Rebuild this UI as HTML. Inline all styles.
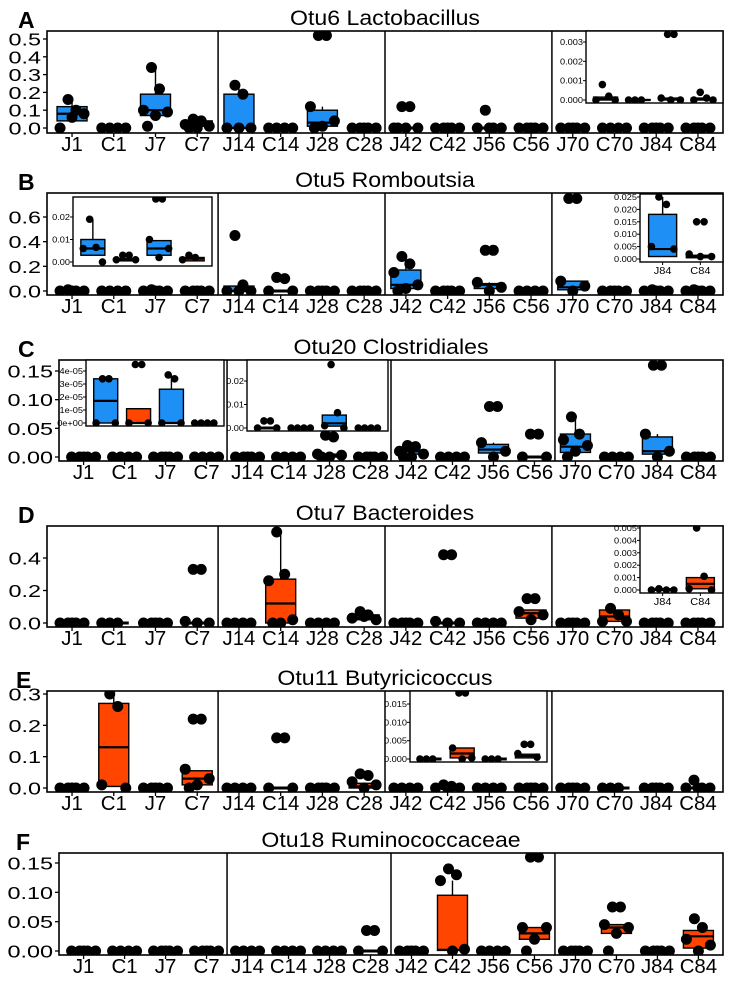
<!DOCTYPE html>
<html><head><meta charset="utf-8"><style>
html,body{margin:0;padding:0;background:#fff;}
svg{display:block;font-family:"Liberation Sans",Arial,sans-serif;}
</style></head><body>
<svg id="fig" width="732" height="989" viewBox="0 0 732 989" xmlns="http://www.w3.org/2000/svg"></svg>
<script>
const CATS=["J1","C1","J7","C7","J14","C14","J28","C28","J42","C42","J56","C56","J70","C70","J84","C84"];
// Panel A
const A_q1=[.04,0,.07,.01,0,0,.01,0,0,0,0,0,0,0,0,0];
const A_med=[.08,0,.1,.02,0,0,.03,0,0,0,0,0,0,0,0,0];
const A_q3=[.12,0,.19,.04,.19,0,.1,0,0,0,0,0,0,0,0,0];
const A_hi=[.16,0,.34,.05,.24,0,.12,0,0,0,0,0,0,0,0,0];
const A_pts=[[.16,.1,0,.08,.06],[0,0,0,0],[.34,.22,.1,.09,.07,.01],[.05,.04,.02,.01,0,0],[.24,.19,0,0,0],[0,0,0,0],[.52,.52,.12,.04,.01,0],[0,0,0,0,0],[.12,.12,0,0,0,0],[0,0,0,0,0],[.1,0,0,0,0],[0,0,0,0,0],[0,0,0,0,0],[0,0,0,0],[0,0,0,0,0],[0,0,0,0,0]];
const A_ticks=[0,.1,.2,.3,.4,.5];
const A_tickLabels=["0.0","0.1","0.2","0.3","0.4","0.5"];
const AI_cats=["J70","C70","J84","C84"];
const AI_q1=[0,0,0,0];const AI_med=[.00005,0,.00003,.00003];const AI_q3=[.00015,.00002,.0001,.0001];const AI_hi=[.00015,.00002,.0001,.0001];
const AI_pts=[[.0008,.0002,0,0],[0,0,0],[.0034,.0034,.0001,0,0],[.0004,.0001,0,0]];
const AI_ticks=[0,.001,.002,.003];const AI_tickLabels=["0.000","0.001","0.002","0.003"];
// Panel B
const B_q1=[0,0,0,0,0,0,0,0,.02,0,.02,0,.01,0,0,0];
const B_med=[0,0,0,0,0,0,0,0,.05,0,.05,0,.03,0,0,0];
const B_q3=[0,0,0,0,.04,0,0,0,.17,0,.06,0,.08,0,0,0];
const B_hi=[0,0,0,0,.05,0,0,0,.28,0,.07,0,.08,0,0,0];
const B_pts=[[.01,0,0,0,0],[0,0,0,0],[.01,0,0,0,0],[0,0,0,0,0],[.45,.05,0,0,0],[.11,.1,0,0],[0,0,0,0,0],[0,0,0,0,0],[.28,.22,.15,.05,.02,0],[0,0,0,0,0],[.33,.33,.07,.03,0],[0,0,0,0],[.75,.75,.08,.04,0],[0,0,0,0,0],[.01,0,0,0,0],[.01,0,0,0,0]];
const B_ticks=[0,.2,.4,.6];const B_tickLabels=["0.0","0.2","0.4","0.6"];
const BI1_cats=["J1","C1","J7","C7"];
const BI1_q1=[.003,.0005,.003,.0005];const BI1_med=[.006,.001,.006,.0015];const BI1_q3=[.01,.0015,.0095,.002];const BI1_hi=[.019,.0015,.0095,.002];
const BI1_pts=[[.019,.0065,.006,0],[.003,.003,.001,.001],[.028,.028,.01,.006,.002],[.003,.002,.001]];
const BI1_ticks=[0,.01,.02];const BI1_tickLabels=["0.00","0.01","0.02"];
const BI2_cats=["J84","C84"];
const BI2_q1=[.001,.0005];const BI2_med=[.004,.0012];const BI2_q3=[.018,.0015];const BI2_hi=[.025,.0015];
const BI2_pts=[[.025,.022,.005,.004],[.015,.015,.002,.001,.001]];
const BI2_ticks=[0,.005,.01,.015,.02,.025];const BI2_tickLabels=["0.000","0.005","0.010","0.015","0.020","0.025"];
// Panel C
const C_q1=[0,0,0,0,0,0,0,0,.005,0,.007,0,.008,0,.005,0];
const C_med=[0,0,0,0,0,0,.002,0,.01,0,.013,0,.018,0,.01,0];
const C_q3=[0,0,0,0,0,0,.005,0,.012,0,.022,0,.04,0,.035,0];
const C_hi=[0,0,0,0,0,0,.005,0,.02,0,.025,0,.07,0,.04,0];
const C_pts=[[0,0,0,0,0],[0,0,0,0],[0,0,0,0,0],[0,0,0,0],[0,0,0,0,0],[0,0,0,0],[.038,.035,.005,.003,0,0],[0,0,0,0,0],[.02,.018,.01,.005,0,0],[0,0,0,0],[.088,.088,.025,.01,0],[.04,.04,0,0],[.07,.04,.03,.02,.01,0],[0,0,0,0],[.16,.16,.04,.01,0],[0,0,0,0,0]];
const C_ticks=[0,.05,.1,.15];const C_tickLabels=["0.00","0.05","0.10","0.15"];
const CI1_cats=["J1","C1","J7","C7"];
const CI1_q1=[0,0,0,0];const CI1_med=[1.7e-5,0,0,0];const CI1_q3=[3.4e-5,1.1e-5,2.6e-5,0];const CI1_hi=[3.4e-5,1.1e-5,3.7e-5,0];
const CI1_pts=[[3.4e-5,3.4e-5,0,0],[4.5e-5,4.5e-5,0,0],[3.7e-5,3.4e-5,0,0],[0,0,0,0]];
const CI1_ticks=[0,1e-5,2e-5,3e-5,4e-5];const CI1_tickLabels=["0e+00","1e-05","2e-05","3e-05","4e-05"];
const CI2_cats=["J14","C14","J28","C28"];
const CI2_q1=[0,0,.0008,0];const CI2_med=[0,0,.002,0];const CI2_q3=[0,0,.0055,0];const CI2_hi=[0,0,.0055,0];
const CI2_pts=[[.003,.003,0,0],[0,0,0,0],[.027,.0065,.001,0],[0,0,0,0]];
const CI2_ticks=[0,.01,.02];const CI2_tickLabels=["0.00","0.01","0.02"];
// Panel D
const D_q1=[0,0,0,0,0,0,0,.02,0,0,0,.03,0,.01,0,0];
const D_med=[0,0,0,0,0,.12,0,.03,0,0,0,.06,0,.04,0,0];
const D_q3=[0,0,0,0,0,.27,0,.05,0,0,0,.08,0,.08,0,0];
const D_hi=[0,0,0,0,0,.56,0,.05,0,0,0,.08,0,.08,0,0];
const D_pts=[[0,0,0,0,0],[0,0,0],[0,0,0,0,0],[.33,.33,.01,0,0],[0,0,0,0],[.56,.3,.26,.02,0,0],[0,0,0,0],[.07,.05,.03,.02,.04],[0,0,0,0,0],[.42,.42,.01,0,0],[0,0,0,0],[.15,.15,.07,.05,.02],[0,0,0,0,0],[.09,.05,.01,.01],[0,0,0,0,0],[0,0,0,0,0]];
const D_ticks=[0,.2,.4];const D_tickLabels=["0.0","0.2","0.4"];
const DI_cats=["J84","C84"];
const DI_q1=[0,.0001];const DI_med=[0,.0005];const DI_q3=[.0001,.001];const DI_hi=[.0001,.001];
const DI_pts=[[.0001,0,0,0],[.005,.0011,.0001,0]];
const DI_ticks=[0,.001,.002,.003,.004,.005];const DI_tickLabels=["0.000","0.001","0.002","0.003","0.004","0.005"];
// Panel E
const E_q1=[0,.005,0,.01,0,0,0,0,0,0,0,0,0,0,0,0];
const E_med=[0,.13,0,.03,0,0,0,.005,0,0,0,0,0,0,0,0];
const E_q3=[0,.27,0,.055,0,0,0,.015,0,0,0,0,0,0,0,0];
const E_hi=[0,.3,0,.055,0,0,0,.015,0,0,0,0,0,0,0,0];
const E_pts=[[0,0,0,0,0],[.3,.26,.01,0],[0,0,0,0,0],[.22,.22,.06,.03,.01,0],[0,0,0,0],[.16,.16,0,0],[0,0,0,0,0],[.045,.04,.02,.01,0],[0,0,0,0],[.01,.005,0,0,0],[0,0,0,0],[0,0,0,0,0],[0,0,0,0,0],[0,0,0],[0,0,0,0,0],[.025,0,0,0,0]];
const E_ticks=[0,.1,.2,.3];const E_tickLabels=["0.0","0.1","0.2","0.3"];
const EI_cats=["J42","C42","J56","C56"];
const EI_q1=[0,.0003,0,.0003];const EI_med=[0,.0015,0,.0008];const EI_q3=[0,.003,0,.0013];const EI_hi=[0,.003,0,.0013];
const EI_pts=[[0,0,0],[.018,.018,.003,.0003,0],[0,0,0],[.004,.004,.0015,.0005]];
const EI_ticks=[0,.005,.01,.015];const EI_tickLabels=["0.000","0.005","0.010","0.015"];
// Panel F
const F_q1=[0,0,0,0,0,0,0,0,0,.001,0,.02,0,.03,0,.005];
const F_med=[0,0,0,0,0,0,0,0,0,.002,0,.03,0,.04,0,.025];
const F_q3=[0,0,0,0,0,0,0,0,0,.095,0,.04,0,.045,0,.035];
const F_hi=[0,0,0,0,0,0,0,0,0,.12,0,.04,0,.045,0,.04];
const F_pts=[[0,0,0,0,0],[0,0,0,0],[0,0,0,0,0],[0,0,0,0,0],[0,0,0,0],[0,0,0,0],[0,0,0,0],[.035,.035,0,0],[0,0,0,0,0],[.14,.13,.12,.003,0],[0,0,0,0],[.16,.16,.04,.04,.02,0],[0,0,0,0,0],[.075,.075,.045,.04,.03,0],[0,0,0,0,0],[.055,.04,.02,.01,0]];
const F_ticks=[0,.05,.1,.15];const F_tickLabels=["0.00","0.05","0.10","0.15"];

const NS="http://www.w3.org/2000/svg";
const svg=document.getElementById('fig');
const BLUE="#1E8FF5",RED="#FF4500";
const JIT=[-4,4,-12,12,0,-8,8,-14,14];
function mk(tag,attrs,parent){const e=document.createElementNS(NS,tag);for(const k in attrs)e.setAttribute(k,attrs[k]);(parent||svg).appendChild(e);return e;}
function txt(parent,x,y,s,size,anchor,sx,weight){
  const t=mk('text',{transform:`translate(${x},${y}) scale(${sx},1)`,'font-size':size,'text-anchor':anchor,fill:'#000'},parent);
  if(weight)t.setAttribute('font-weight',weight);
  t.textContent=s;return t;}

function drawGroup(g,xs,ys,q1,med,q3,hi,pts,fill,bw,r,fills){
  for(let i=0;i<q1.length;i++){
    const x=xs(i);const f=(fills&&fills[i])||fill;
    const cg=mk('g',{},g);
    
    
    if(hi[i]>q3[i]) mk('line',{x1:x,x2:x,y1:ys(q3[i]),y2:ys(hi[i]),stroke:'#000','stroke-width':1.4},cg);
    if(q3[i]>q1[i]){
      mk('rect',{x:x-bw/2,y:ys(q3[i]),width:bw,height:ys(q1[i])-ys(q3[i]),fill:f,stroke:'#000','stroke-width':1.4},cg);
      mk('line',{x1:x-bw/2,x2:x+bw/2,y1:ys(med[i]),y2:ys(med[i]),stroke:'#000','stroke-width':2.2},cg);
    } else {
      mk('line',{x1:x-bw/2,x2:x+bw/2,y1:ys(med[i]),y2:ys(med[i]),stroke:'#000','stroke-width':3},cg);
    }
    pts[i].forEach((v,k)=>{
      const c=mk('circle',{cx:x+JIT[k%JIT.length]*(bw/30),cy:ys(v),r:r,fill:'#000'},cg);
      
      
    });
  }
}

let clipId=0;
function panel(p){
  const g=mk('g',{});
  
  
  const L=p.left,R=723,W=R-L;
  const unit=W/16.2;
  const xs=i=>L+(i+0.6)*unit;
  const ys=v=>p.y0-v*(p.y0-p.tp)/p.tv;
  const cid='c'+(clipId++);
  const cp=mk('clipPath',{id:cid},g);mk('rect',{x:L,y:p.top,width:W,height:p.bottom-p.top},cp);
  const lt=txt(g,p.lx,p.top-3,p.letter,23,'start',1,'bold');
  
  const tt=txt(g,(L+R)/2,p.top-6,p.title,21,'middle',1.1);
  
  p.ticks.forEach((v,i)=>{
    mk('line',{x1:L-4,x2:L,y1:ys(v),y2:ys(v),stroke:'#000','stroke-width':1.3},g);
    const t=txt(g,L-6,ys(v)+6.5,p.tickLabels[i],18,'end',1.3);
    
  });
  CATS.forEach((c,i)=>{
    mk('line',{x1:xs(i),x2:xs(i),y1:p.bottom,y2:p.bottom+4,stroke:'#000','stroke-width':1.3},g);
    const t=txt(g,xs(i),p.bottom+18,c,20,'middle',1.02);
    
  });
  const dg=mk('g',{'clip-path':`url(#${cid})`},g);
  drawGroup(dg,xs,ys,p.q1,p.med,p.q3,p.hi,p.pts,p.fill,30,5.5);
  [4.5,8.5,12.5].forEach(d=>{
    const ln=mk('line',{x1:L+(d-0.4)*unit,x2:L+(d-0.4)*unit,y1:p.top,y2:p.bottom,stroke:'#000','stroke-width':1.5},g);
    
    
  });
  const fr=mk('rect',{x:L,y:p.top,width:W,height:p.bottom-p.top,fill:'none',stroke:'#000','stroke-width':1.6},g);
  
  (p.insets||[]).forEach(ins=>inset(g,ins));
}
function inset(parent,s){
  const g=mk('g',{},parent);
  
  
  const W=s.x1-s.x0,n=s.cats.length;
  const unit=W/(n+0.2);
  const xs=i=>s.x0+(i+0.6)*unit;
  const ys=v=>s.y0-v*(s.y0-s.tp)/s.tv;
  mk('rect',{x:s.x0,y:s.top,width:W,height:s.bottom-s.top,fill:'#fff'},g);
  const cid='c'+(clipId++);
  const cp=mk('clipPath',{id:cid},g);mk('rect',{x:s.x0,y:s.top,width:W,height:s.bottom-s.top},cp);
  s.ticks.forEach((v,i)=>{
    mk('line',{x1:s.x0-3,x2:s.x0,y1:ys(v),y2:ys(v),stroke:'#000','stroke-width':1},g);
    const t=txt(g,s.x0-3,ys(v)+3,s.tickLabels[i],8,'end',1.15);
    
  });
  if(s.xl) s.cats.forEach((c,i)=>{
    mk('line',{x1:xs(i),x2:xs(i),y1:s.bottom,y2:s.bottom+3,stroke:'#000','stroke-width':1},g);
    const t=txt(g,xs(i),s.bottom+12,c,10,'middle',1.1);
    
  });
  const dg=mk('g',{'clip-path':`url(#${cid})`},g);
  drawGroup(dg,xs,ys,s.q1,s.med,s.q3,s.hi,s.pts,s.fill,s.bw||24,s.r||3.8,s.fills);
  mk('rect',{x:s.x0,y:s.top,width:W,height:s.bottom-s.top,fill:'none',stroke:'#000','stroke-width':1.4},g);
}

panel({letter:'A',title:'Otu6 Lactobacillus',left:47,top:31,bottom:133,y0:128,tv:.5,tp:39,lx:18,fill:BLUE,
  ticks:A_ticks,tickLabels:A_tickLabels,q1:A_q1,med:A_med,q3:A_q3,hi:A_hi,pts:A_pts,
  insets:[{x0:586,x1:723,top:31,bottom:103,y0:100,tv:.003,tp:42,cats:AI_cats,q1:AI_q1,med:AI_med,q3:AI_q3,hi:AI_hi,pts:AI_pts,ticks:AI_ticks,tickLabels:AI_tickLabels,fill:BLUE}]});
panel({letter:'B',title:'Otu5 Romboutsia',left:47,top:193,bottom:295,y0:291,tv:.6,tp:217,lx:18,fill:BLUE,
  ticks:B_ticks,tickLabels:B_tickLabels,q1:B_q1,med:B_med,q3:B_q3,hi:B_hi,pts:B_pts,
  insets:[{x0:73,x1:212,top:197,bottom:266,y0:262,tv:.02,tp:217,cats:BI1_cats,q1:BI1_q1,med:BI1_med,q3:BI1_q3,hi:BI1_hi,pts:BI1_pts,ticks:BI1_ticks,tickLabels:BI1_tickLabels,fill:BLUE,fills:[null,null,null,RED]},
          {x0:640,x1:723,top:194,bottom:262,y0:259,tv:.025,tp:197,xl:true,cats:BI2_cats,q1:BI2_q1,med:BI2_med,q3:BI2_q3,hi:BI2_hi,pts:BI2_pts,ticks:BI2_ticks,tickLabels:BI2_tickLabels,fill:BLUE,bw:28}]});
panel({letter:'C',title:'Otu20 Clostridiales',left:59,top:360,bottom:461,y0:457,tv:.15,tp:371,lx:18,fill:BLUE,
  ticks:C_ticks,tickLabels:C_tickLabels,q1:C_q1,med:C_med,q3:C_q3,hi:C_hi,pts:C_pts,
  insets:[{x0:86,x1:224,top:360,bottom:426,y0:423,tv:4e-5,tp:371,cats:CI1_cats,q1:CI1_q1,med:CI1_med,q3:CI1_q3,hi:CI1_hi,pts:CI1_pts,ticks:CI1_ticks,tickLabels:CI1_tickLabels,fill:BLUE,fills:[null,RED,null,null],bw:24},
          {x0:247,x1:388,top:360,bottom:431,y0:428,tv:.02,tp:381,cats:CI2_cats,q1:CI2_q1,med:CI2_med,q3:CI2_q3,hi:CI2_hi,pts:CI2_pts,ticks:CI2_ticks,tickLabels:CI2_tickLabels,fill:BLUE}]});
panel({letter:'D',title:'Otu7 Bacteroides',left:47,top:526,bottom:627,y0:623,tv:.4,tp:558,lx:18,fill:RED,
  ticks:D_ticks,tickLabels:D_tickLabels,q1:D_q1,med:D_med,q3:D_q3,hi:D_hi,pts:D_pts,
  insets:[{x0:640,x1:723,top:526,bottom:593,y0:590,tv:.005,tp:528,xl:true,cats:DI_cats,q1:DI_q1,med:DI_med,q3:DI_q3,hi:DI_hi,pts:DI_pts,ticks:DI_ticks,tickLabels:DI_tickLabels,fill:RED,bw:28}]});
panel({letter:'E',title:'Otu11 Butyricicoccus',left:47,top:691,bottom:792,y0:788,tv:.3,tp:694,lx:16,fill:RED,
  ticks:E_ticks,tickLabels:E_tickLabels,q1:E_q1,med:E_med,q3:E_q3,hi:E_hi,pts:E_pts,
  insets:[{x0:410,x1:547,top:691,bottom:762,y0:759,tv:.015,tp:704,cats:EI_cats,q1:EI_q1,med:EI_med,q3:EI_q3,hi:EI_hi,pts:EI_pts,ticks:EI_ticks,tickLabels:EI_tickLabels,fill:RED}]});
panel({letter:'F',title:'Otu18 Ruminococcaceae',left:59,top:853,bottom:955,y0:951,tv:.15,tp:863,lx:16,fill:RED,
  ticks:F_ticks,tickLabels:F_tickLabels,q1:F_q1,med:F_med,q3:F_q3,hi:F_hi,pts:F_pts});
</script>
</body></html>
